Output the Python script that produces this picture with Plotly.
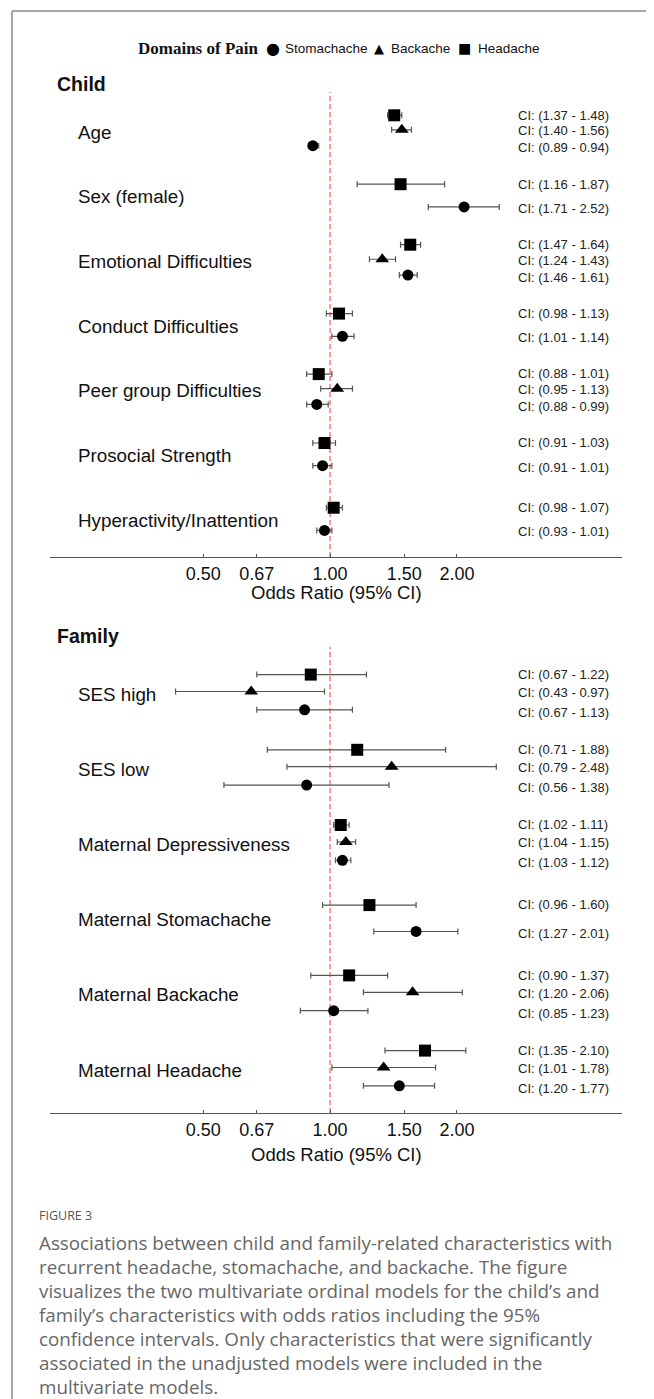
import plotly.graph_objects as go

# ---------------- data ----------------
child_labels = ["Age", "Sex (female)", "Emotional Difficulties", "Conduct Difficulties",
                "Peer group Difficulties", "Prosocial Strength", "Hyperactivity/Inattention"]
child_head_or = [1.42, 1.47, 1.55, 1.05, 0.94, 0.97, 1.02]
child_head_lo = [1.37, 1.16, 1.47, 0.98, 0.88, 0.91, 0.98]
child_head_hi = [1.48, 1.87, 1.64, 1.13, 1.01, 1.03, 1.07]
child_back_or = [1.48, None, 1.33, None, 1.04, None, None]
child_back_lo = [1.40, None, 1.24, None, 0.95, None, None]
child_back_hi = [1.56, None, 1.43, None, 1.13, None, None]
child_stom_or = [0.91, 2.08, 1.53, 1.07, 0.93, 0.96, 0.97]
child_stom_lo = [0.89, 1.71, 1.46, 1.01, 0.88, 0.91, 0.93]
child_stom_hi = [0.94, 2.52, 1.61, 1.14, 0.99, 1.01, 1.01]

family_labels = ["SES high", "SES low", "Maternal Depressiveness", "Maternal Stomachache",
                 "Maternal Backache", "Maternal Headache"]
fam_head_or = [0.90, 1.16, 1.06, 1.24, 1.11, 1.68]
fam_head_lo = [0.67, 0.71, 1.02, 0.96, 0.90, 1.35]
fam_head_hi = [1.22, 1.88, 1.11, 1.60, 1.37, 2.10]
fam_back_or = [0.65, 1.40, 1.09, None, 1.57, 1.34]
fam_back_lo = [0.43, 0.79, 1.04, None, 1.20, 1.01]
fam_back_hi = [0.97, 2.48, 1.15, None, 2.06, 1.78]
fam_stom_or = [0.87, 0.88, 1.07, 1.60, 1.02, 1.46]
fam_stom_lo = [0.67, 0.56, 1.03, 1.27, 0.85, 1.20]
fam_stom_hi = [1.13, 1.38, 1.12, 2.01, 1.23, 1.77]

tick_vals = [0.50, 0.67, 1.00, 1.50, 2.00]
tick_text = ["0.50", "0.67", "1.00", "1.50", "2.00"]

legend_title = "Domains of Pain"
legend_names = ["Stomachache", "Backache", "Headache"]

caption_title = "FIGURE 3"
caption_lines = [
    "Associations between child and family-related characteristics with",
    "recurrent headache, stomachache, and backache. The figure",
    "visualizes the two multivariate ordinal models for the child\u2019s and",
    "family\u2019s characteristics with odds ratios including the 95%",
    "confidence intervals. Only characteristics that were significantly",
    "associated in the unadjusted models were included in the",
    "multivariate models.",
]

# ---------------- layout constants ----------------
OFF = 8                       # page body margin
W, H = 654 - OFF, 1399 - OFF
SANS = "Liberation Sans, Arial, sans-serif"
SERIF = "Liberation Serif, Times New Roman, serif"
CAP = "Open Sans, sans-serif"

def py(px):
    return 1 - (px - OFF) / H

def pxx(px):
    return (px - OFF) / W

# marker / text offsets (in group units, downward positive)
MOFF3 = {"H": -0.258, "B": -0.033, "S": 0.211}
MOFF2 = {"H": -0.193, "S": 0.158}
TOFF3 = {"H": -0.26, "B": -0.02, "S": 0.245}
TOFF2 = {"H": -0.195, "S": 0.18}

series_style = {
    "S": dict(name=legend_names[0], symbol="circle", size=11, glyph="\u25CF", gsize=16),
    "B": dict(name=legend_names[1], symbol="triangle-up", size=12, glyph="\u25B2", gsize=13),
    "H": dict(name=legend_names[2], symbol="square", size=12, glyph="\u25A0", gsize=14),
}

fig = go.Figure()
annotations = []

def add_panel(labels, data, xa, ya, yref):
    nrows = [sum(1 for k in data if data[k][0][i] is not None) for i in range(len(labels))]
    for key in ["S", "B", "H"]:
        orv, lov, hiv = data[key]
        xs, ys, ep, em = [], [], [], []
        for i, v in enumerate(orv):
            if v is None:
                continue
            off = (MOFF3 if nrows[i] == 3 else MOFF2)[key]
            toff = (TOFF3 if nrows[i] == 3 else TOFF2)[key]
            xs.append(v)
            ys.append(i + off)
            ep.append(hiv[i] - v)
            em.append(v - lov[i])
            annotations.append(dict(
                x=pxx(516), xref="paper", xanchor="left",
                y=i + toff, yref=yref, yanchor="middle",
                text=f"CI: ({lov[i]:.2f} - {hiv[i]:.2f})", showarrow=False,
                font=dict(family=SANS, size=13, color="#222222")))
        st = series_style[key]
        fig.add_trace(go.Scatter(
            x=xs, y=ys, mode="markers", name=st["name"],
            xaxis=xa, yaxis=ya, showlegend=False,
            marker=dict(symbol=st["symbol"], size=st["size"], color="black"),
            error_x=dict(type="data", symmetric=False, array=ep, arrayminus=em,
                         color="#555555", thickness=1.2, width=3),
            hoverinfo="x+y"))
    for i, lab in enumerate(labels):
        annotations.append(dict(
            x=pxx(76), xref="paper", xanchor="left",
            y=i, yref=yref, yanchor="middle",
            text=lab, showarrow=False,
            font=dict(family=SANS, size=18.8, color="#111111")))

add_panel(child_labels,
          {"H": (child_head_or, child_head_lo, child_head_hi),
           "B": (child_back_or, child_back_lo, child_back_hi),
           "S": (child_stom_or, child_stom_lo, child_stom_hi)},
          "x", "y", "y")
add_panel(family_labels,
          {"H": (fam_head_or, fam_head_lo, fam_head_hi),
           "B": (fam_back_or, fam_back_lo, fam_back_hi),
           "S": (fam_stom_or, fam_stom_lo, fam_stom_hi)},
          "x2", "y2", "y2")

# axis geometry (page pixels)
X0, X1 = 50, 622
TOP1, BOT1, C1, SP1 = 92, 557, 132, 64.7
TOP2, BOT2, C2, SP2 = 647, 1113, 694, 75.2
xr = [-0.6646, 0.6928]

xaxis_common = dict(type="log", range=xr, domain=[pxx(X0), pxx(X1)],
                    showgrid=False, zeroline=False, showline=True,
                    linecolor="#555555", linewidth=1,
                    ticks="inside", ticklen=3, tickcolor="#555555",
                    tickvals=tick_vals, ticktext=tick_text,
                    tickfont=dict(family=SANS, size=18, color="#111111"))
yaxis_common = dict(showgrid=False, zeroline=False, showline=False,
                    showticklabels=False, ticks="")

fig.update_layout(
    xaxis=dict(**xaxis_common, anchor="y"),
    yaxis=dict(**yaxis_common, anchor="x",
               domain=[py(BOT1), py(TOP1)],
               range=[(BOT1 - C1) / SP1, (TOP1 - C1) / SP1]),
    xaxis2=dict(**xaxis_common, anchor="y2"),
    yaxis2=dict(**yaxis_common, anchor="x2",
                domain=[py(BOT2), py(TOP2)],
                range=[(BOT2 - C2) / SP2, (TOP2 - C2) / SP2]),
)

# reference lines at OR = 1
for xa, ya in [("x", "y"), ("x2", "y2")]:
    fig.add_shape(type="line", xref=xa, yref=f"{ya} domain", x0=1, x1=1, y0=0, y1=1,
                  line=dict(color="#F26A6A", width=1.3, dash="5px,3px"), layer="below")

# frame lines
fig.add_shape(type="line", xref="paper", yref="paper", x0=pxx(12), x1=1.0,
              y0=py(11), y1=py(11), line=dict(color="#8a8a8a", width=1.5))
fig.add_shape(type="line", xref="paper", yref="paper", x0=pxx(12), x1=pxx(12),
              y0=py(11), y1=0, line=dict(color="#8a8a8a", width=1.5))

# legend (drawn as text, tight spacing as in the original)
LEG_Y = 48
annotations.append(dict(x=pxx(261), xref="paper", xanchor="right", y=py(LEG_Y), yref="paper",
                        yanchor="middle", text=f"<b>{legend_title}</b>", showarrow=False,
                        font=dict(family=SERIF, size=17, color="#111111")))
for key, gx, tx in [("S", 273, 283), ("B", 379, 389), ("H", 465, 476)]:
    st = series_style[key]
    annotations.append(dict(x=pxx(gx), xref="paper", xanchor="center", y=py(LEG_Y), yref="paper",
                            yanchor="middle", text=st["glyph"], showarrow=False,
                            font=dict(family="DejaVu Sans, sans-serif", size=st["gsize"],
                                      color="#000000")))
    annotations.append(dict(x=pxx(tx), xref="paper", xanchor="left", y=py(LEG_Y), yref="paper",
                            yanchor="middle", text=st["name"], showarrow=False,
                            font=dict(family=SANS, size=13.5, color="#111111")))

# panel headers
for txt, ypx in [("Child", 84), ("Family", 636)]:
    annotations.append(dict(x=pxx(55), xref="paper", xanchor="left", y=py(ypx), yref="paper",
                            yanchor="middle", text=f"<b>{txt}</b>", showarrow=False,
                            font=dict(family=SANS, size=19.5, color="#111111")))

# axis titles
for ypx in [592, 1154]:
    annotations.append(dict(x=pxx((X0 + X1) / 2), xref="paper", xanchor="center",
                            y=py(ypx), yref="paper", yanchor="middle",
                            text="Odds Ratio (95% CI)", showarrow=False,
                            font=dict(family=SANS, size=18.5, color="#111111")))

# caption
annotations.append(dict(x=pxx(37), xref="paper", xanchor="left", y=py(1215), yref="paper",
                        yanchor="middle", text=caption_title, showarrow=False,
                        font=dict(family=CAP, size=12.5, color="#555555")))
for k, line in enumerate(caption_lines):
    annotations.append(dict(x=pxx(37), xref="paper", xanchor="left",
                            y=py(1243 + 24 * k), yref="paper", yanchor="middle",
                            text=line, showarrow=False,
                            font=dict(family=CAP, size=18.8, color="#666666")))

fig.update_layout(
    width=W, height=H,
    margin=dict(l=0, r=0, t=0, b=0),
    paper_bgcolor="white", plot_bgcolor="white",
    annotations=annotations,
    showlegend=False,
)

fig.write_html("out.html")
